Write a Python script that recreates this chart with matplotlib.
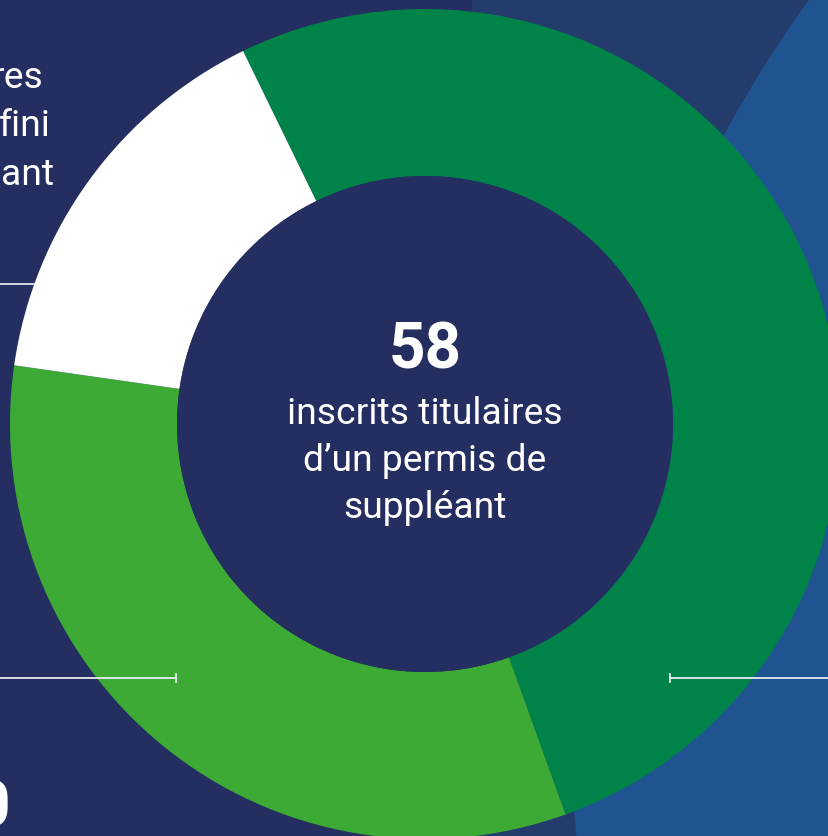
import matplotlib

matplotlib.use("Agg")
import matplotlib.pyplot as plt
from matplotlib.patches import Circle, Rectangle

# donut: inscrits titulaires d'un permis de suppléant
values = [30, 19, 9]
colors = ["#008348", "#3caa35", "#ffffff"]
total = sum(values)
center_label = "inscrits titulaires\nd\u2019un permis de\nsuppléant"
# fins de lignes du bloc de gauche (coupé par le bord)
left_words = ["res", "fini", "ant"]
left_ends = [43, 51, 54]
left_number = "0"

W, H = 829, 837
NAVY = "#252e60"
NAVY2 = "#243c6b"
BLUE = "#1f5491"

fig = plt.figure(figsize=(W / 100, H / 100), dpi=100)
fig.patch.set_facecolor(NAVY)
ax = fig.add_axes([0, 0, 1, 1])
ax.set_facecolor(NAVY)


def py(y):
    # pixel row (top=0) -> data y
    return H - y


# fond: bandes plus claires à droite
ax.add_patch(Rectangle((472, 0), W, H, color=NAVY2, lw=0, zorder=0))
ax.add_patch(Circle((1825, py(734)), 1253, color=BLUE, lw=0, zorder=0.5))

# trait gauche haut (sous l'anneau)
ax.plot([0, 40], [py(285), py(285)], color="#dfe3ee", lw=1.3, zorder=1)

cx, cy, r_out, r_in = 425, py(425), 415, 248
wedges, _ = ax.pie(
    values,
    colors=colors,
    startangle=116,
    counterclock=False,
    center=(cx, cy),
    radius=r_out,
    wedgeprops=dict(width=r_out - r_in, linewidth=0, edgecolor="none"),
    frame=True,
)
for w in wedges:
    w.set_zorder(2)
ax.add_patch(Circle((cx, cy), r_in, color=NAVY, lw=0, zorder=3))

# traits de rappel avec petit arrêt
for x0, x1, xt in [(0, 176, 176), (670, W, 670)]:
    ax.plot([x0, x1], [py(679), py(679)], color="#e8ebf2", lw=1.3, zorder=4)
    ax.plot([xt, xt], [py(675), py(683)], color="#e8ebf2", lw=1.3, zorder=4)

font = ["Roboto", "DejaVu Sans"]
ax.text(cx, py(351), str(total), ha="center", va="center", color="white",
        fontsize=46, fontweight="bold", family=font, zorder=5)
ax.text(cx, py(461), center_label, ha="center", va="center", color="white",
        fontsize=26.8, family=font, linespacing=1.38, zorder=5)

for i, (word, xe) in enumerate(zip(left_words, left_ends)):
    ax.text(xe, py(78 + 48.5 * i), word, ha="right", va="center", color="white",
            fontsize=26.8, family=font, zorder=5)
ax.text(11, py(809), left_number, ha="right", va="center", color="white",
        fontsize=46, fontweight="bold", family=font, zorder=5)

ax.set_xlim(0, W)
ax.set_ylim(0, H)
ax.set_aspect("auto")
ax.axis("off")

fig.savefig("out.png", dpi=100, facecolor=NAVY)
